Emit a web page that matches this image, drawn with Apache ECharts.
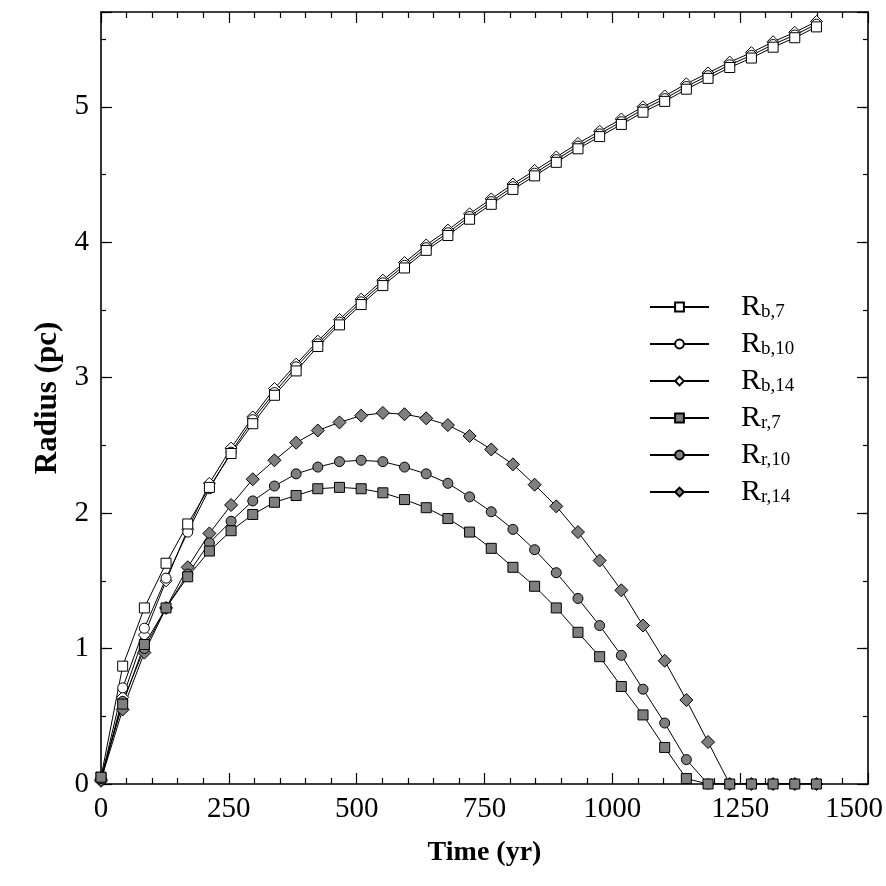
<!DOCTYPE html>
<html>
<head>
<meta charset="utf-8">
<title>Radius vs Time</title>
<script src="https://cdn.jsdelivr.net/npm/echarts@6/dist/echarts.min.js"></script>
<style>
    html, body { margin: 0; padding: 0; background: #fff; }
    #main { width: 886px; height: 886px; }
</style>
</head>
<body>
<div id="main"></div>
<script>
// time steps (yr)
var times = [0, 42.4, 84.8, 127.2, 169.6, 212, 254.4, 296.8, 339.2, 381.6, 424, 466.4,
    508.8, 551.2, 593.6, 636, 678.4, 720.8, 763.2, 805.6, 848, 890.4, 932.8, 975.2,
    1017.6, 1060, 1102.4, 1144.8, 1187.2, 1229.6, 1272, 1314.4, 1356.8, 1399.2];

// radius values (pc)
var rb7 = [0.05, 0.87, 1.30, 1.63, 1.92, 2.19, 2.44, 2.66, 2.87, 3.05, 3.23, 3.39,
    3.54, 3.68, 3.81, 3.94, 4.05, 4.17, 4.28, 4.39, 4.49, 4.59, 4.69, 4.78,
    4.87, 4.96, 5.04, 5.13, 5.21, 5.29, 5.36, 5.44, 5.51, 5.59];
var rb10 = [0.03, 0.71, 1.15, 1.52, 1.86, 2.18, 2.45, 2.69, 2.89, 3.08, 3.25, 3.41,
    3.56, 3.70, 3.83, 3.96, 4.07, 4.19, 4.30, 4.41, 4.51, 4.61, 4.71, 4.80,
    4.89, 4.98, 5.06, 5.15, 5.23, 5.31, 5.38, 5.46, 5.53, 5.61];
var rb14 = [0.02, 0.64, 1.10, 1.50, 1.88, 2.22, 2.48, 2.71, 2.92, 3.10, 3.27, 3.43,
    3.58, 3.72, 3.85, 3.98, 4.09, 4.21, 4.32, 4.43, 4.53, 4.63, 4.73, 4.82,
    4.91, 5.00, 5.08, 5.17, 5.25, 5.33, 5.40, 5.48, 5.55, 5.63];
var rr7 = [0.05, 0.59, 1.03, 1.30, 1.53, 1.72, 1.87, 1.99, 2.08, 2.13, 2.18, 2.19,
    2.18, 2.15, 2.10, 2.04, 1.96, 1.86, 1.74, 1.60, 1.46, 1.30, 1.12, 0.94,
    0.72, 0.51, 0.27, 0.04, 0, 0, 0, 0, 0, 0];
var rr10 = [0.04, 0.61, 1.00, 1.30, 1.55, 1.78, 1.94, 2.09, 2.20, 2.29, 2.34, 2.38,
    2.39, 2.38, 2.34, 2.29, 2.22, 2.12, 2.01, 1.88, 1.73, 1.56, 1.37, 1.17,
    0.95, 0.70, 0.45, 0.18, 0, 0, 0, 0, 0, 0];
var rr14 = [0.03, 0.55, 0.97, 1.30, 1.60, 1.85, 2.06, 2.25, 2.39, 2.52, 2.61, 2.67,
    2.72, 2.74, 2.73, 2.70, 2.65, 2.57, 2.47, 2.36, 2.21, 2.05, 1.86, 1.65,
    1.43, 1.17, 0.91, 0.62, 0.31, 0, 0, 0, 0, 0];

var legendNames = ['Rb,7', 'Rb,10', 'Rb,14', 'Rr,7', 'Rr,10', 'Rr,14'];

var FONT = 'Liberation Serif';

function pairs(ys) {
    return times.map(function (t, i) { return [t, ys[i]]; });
}

function makeSeries(name, ys, symbol, size, fill) {
    return {
        name: name,
        type: 'line',
        xAxisIndex: 0,
        yAxisIndex: 0,
        data: pairs(ys),
        symbol: symbol,
        symbolSize: size,
        showSymbol: true,
        showAllSymbol: true,
        lineStyle: { color: '#000', width: 1 },
        itemStyle: { color: fill, borderColor: '#000', borderWidth: 1 },
        emphasis: { disabled: true }
    };
}

var chart = echarts.init(document.getElementById('main'), null, { renderer: 'canvas' });

var tickStyle = { color: '#000', width: 1.2 };

function xAx(pos, showLabel) {
    return {
        type: 'value', position: pos, min: 0, max: 1500, interval: 250,
        axisLine: { show: true, onZero: false, lineStyle: { color: '#000', width: 1.6 } },
        axisTick: { show: true, inside: true, length: 11, lineStyle: tickStyle },
        minorTick: { show: true, splitNumber: 5, length: 6, lineStyle: tickStyle },
        splitLine: { show: false },
        axisLabel: showLabel ? {
            show: true, fontFamily: FONT, fontSize: 29, color: '#000', margin: 11,
            formatter: function (v) { return v === 1500 ? '{m|1500}' : String(v); },
            rich: { m: { fontFamily: FONT, fontSize: 29, color: '#000', padding: [0, 28, 0, 0] } }
        } : { show: false },
        name: showLabel ? 'Time (yr)' : '',
        nameLocation: 'middle',
        nameGap: 55,
        nameTextStyle: { fontFamily: FONT, fontSize: 28, fontWeight: 'bold', color: '#000' }
    };
}

function yAx(pos, interval, tickLen, showLabel, showLine) {
    return {
        type: 'value', position: pos, min: 0, max: 5.7, interval: interval,
        axisLine: { show: showLine, onZero: false, lineStyle: { color: '#000', width: 1.6 } },
        axisTick: { show: true, inside: true, length: tickLen, lineStyle: tickStyle },
        splitLine: { show: false },
        axisLabel: showLabel ? {
            show: true, fontFamily: FONT, fontSize: 29, color: '#000', margin: 12,
            formatter: function (v) { return Math.abs(v - Math.round(v)) < 1e-6 ? String(Math.round(v)) : ''; }
        } : { show: false },
        name: showLabel ? 'Radius (pc)' : '',
        nameLocation: 'middle',
        nameGap: 30,
        nameTextStyle: { fontFamily: FONT, fontSize: 31, fontWeight: 'bold', color: '#000' }
    };
}

var option = {
    backgroundColor: '#fff',
    animation: false,
    grid: { left: 101, right: 13, top: 12, bottom: 102, containLabel: false },
    legend: {
        data: legendNames,
        orient: 'vertical',
        left: 644,
        top: 287,
        itemWidth: 59,
        itemHeight: 11,
        itemGap: 7,
        selectedMode: false,
        formatter: function (name) {
            return '{r|R}{s|' + name.slice(1) + '}';
        },
        textStyle: {
            color: '#000',
            fontFamily: FONT,
            rich: {
                r: { fontFamily: FONT, fontSize: 30, color: '#000', lineHeight: 30, padding: [0, 0, 0, 27] },
                s: { fontFamily: FONT, fontSize: 19, color: '#000', lineHeight: 19, verticalAlign: 'bottom' }
            }
        }
    },
    xAxis: [xAx('bottom', true), xAx('top', false)],
    yAxis: [
        yAx('left', 1, 11, true, true),
        yAx('left', 0.5, 5, false, false),
        yAx('right', 1, 11, false, true),
        yAx('right', 0.5, 5, false, false)
    ],
    series: [
        makeSeries('Rb,14', rb14, 'diamond', 12, '#fff'),
        makeSeries('Rb,10', rb10, 'circle', 10, '#fff'),
        makeSeries('Rb,7', rb7, 'rect', 10, '#fff'),
        makeSeries('Rr,14', rr14, 'diamond', 13, '#7f7f7f'),
        makeSeries('Rr,10', rr10, 'circle', 10, '#7f7f7f'),
        makeSeries('Rr,7', rr7, 'rect', 10, '#7f7f7f')
    ]
};

chart.setOption(option);
</script>
</body>
</html>
